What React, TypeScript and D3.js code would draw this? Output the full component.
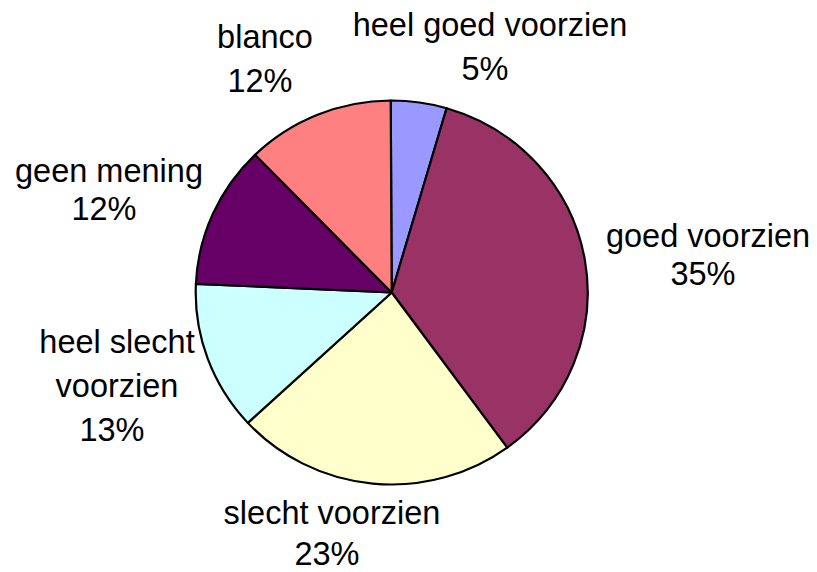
import React, { useRef, useEffect } from 'react';
import * as d3 from 'd3';

// data (share in %)
const categories = ['heel goed voorzien', 'goed voorzien', 'slecht voorzien', 'heel slecht voorzien', 'geen mening', 'blanco'];
const shares = [4.6, 35.45, 23.15, 12.6, 12.0, 12.2];
const colors = ['#9999FF', '#993366', '#FFFFCC', '#CCFFFF', '#660066', '#FF8080'];

// how the labels wrap
const labelLines = [['heel goed voorzien'], ['goed voorzien'], ['slecht voorzien'], ['heel slecht', 'voorzien'], ['geen mening'], ['blanco']];

// label placement (centre x, first baseline, line gap)
const labelPos = [
    { x: 490, y: 36, gap: 44 },
    { x: 708, y: 247, gap: 38 },
    { x: 332, y: 524, gap: 41 },
    { x: 117, y: 353, gap: 44 },
    { x: 109, y: 182, gap: 38 },
    { x: 265, y: 48, gap: 44 }
];

const App = () => {
    const svgRef = useRef<SVGSVGElement>(null);

    useEffect(() => {
        const width = 817;
        const height = 572;
        const cx = 391.7;
        const cy = 292.5;
        const rx = 196;
        const ry = 192;

        const svg = d3.select(svgRef.current)
            .attr('width', width)
            .attr('height', height);

        svg.selectAll('*').remove();

        const data = categories.map((c, i) => ({ name: c, value: shares[i], color: colors[i], i }));

        const pie = d3.pie<any>()
            .value(d => d.value)
            .sort(null)
            .startAngle(-0.005)
            .endAngle(2 * Math.PI - 0.005);

        const arc = d3.arc<any>()
            .innerRadius(0)
            .outerRadius(rx);

        // the pie is a little squashed vertically
        const g = svg.append('g')
            .attr('transform', `translate(${cx},${cy}) scale(1,${ry / rx})`);

        g.selectAll('path')
            .data(pie(data))
            .enter()
            .append('path')
            .attr('d', arc)
            .attr('fill', d => d.data.color)
            .attr('stroke', '#000')
            .attr('stroke-width', 2.2)
            .attr('stroke-linejoin', 'round');

        // labels
        const labels = svg.append('g')
            .attr('font-family', "'Liberation Sans', Arial, sans-serif")
            .attr('font-size', 32.5)
            .attr('fill', '#000')
            .attr('text-anchor', 'middle');

        data.forEach((d, i) => {
            const p = labelPos[i];
            const lines = [...labelLines[i], `${Math.round(d.value)}%`];
            const t = labels.append('text')
                .attr('x', p.x)
                .attr('y', p.y);
            lines.forEach((line, j) => {
                t.append('tspan')
                    .attr('x', j === lines.length - 1 ? p.x - 5 : p.x)
                    .attr('y', p.y + j * p.gap)
                    .text(line);
            });
        });
    }, []);

    return (
        <svg ref={svgRef} style={{ position: 'absolute', left: 0, top: 0, background: '#fff' }}></svg>
    );
};

export default App;
